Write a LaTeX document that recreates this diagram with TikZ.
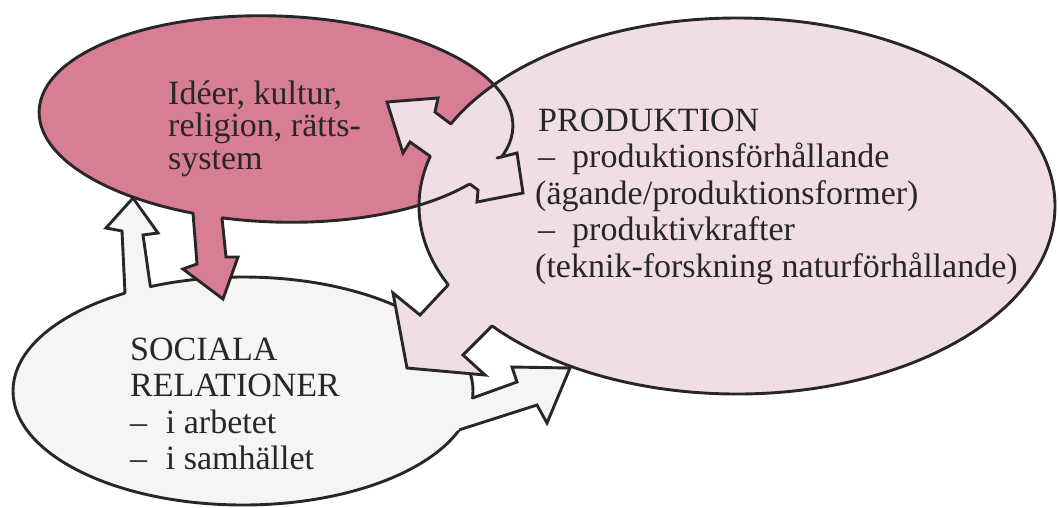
\documentclass[tikz,border=0pt]{standalone}
\usepackage{fontspec}
\setmainfont{Liberation Serif}
\definecolor{ideafill}{RGB}{216,126,148}
\definecolor{prodfill}{RGB}{241,222,228}
\definecolor{socfill}{RGB}{247,245,244}
\definecolor{ink}{RGB}{40,38,38}
\begin{document}
\begin{tikzpicture}[x=1pt,y=-1pt,
  outl/.style={draw=ink,line width=2.9pt},
  arrowline/.style={draw=ink,line width=2.9pt,line join=miter,line cap=round},
  txt/.style={anchor=base west,inner sep=0pt,font=\fontsize{34}{36}\selectfont,text=ink}]
\useasboundingbox (0,0) rectangle (1059,507);
\fill[white] (0,0) rectangle (1059,507);
\coordinate (ideaC) at (276,119);
\coordinate (prodC) at (737,206);
\coordinate (socC) at (243,391);
% ellipse fills
\fill[ideafill,rotate around={-2:(ideaC)}] (ideaC) ellipse (237 and 103);
\fill[prodfill] (prodC) ellipse (318 and 188);
\fill[socfill] (socC) ellipse (230 and 114);
% ellipse outlines
\draw[outl,rotate around={-2:(ideaC)}] (ideaC) ellipse (237 and 103);
\draw[outl] (prodC) ellipse (318 and 188);
\draw[outl] (socC) ellipse (230 and 114);
% white arrow: SOCIALA -> Ideer
\fill[socfill] (126,310) -- (125,293) -- (122,231) -- (106,228) -- (133,198) -- (158,233) -- (143,235) -- (150.4,286.7) -- (153,305) -- cycle;
\draw[arrowline] (125,293) -- (122,231) -- (106,228) -- (133,198) -- (158,233) -- (143,235) -- (150.4,286.7);
% pink arrow: Ideer -> SOCIALA
\fill[ideafill] (191,196) -- (193,213) -- (197,264) -- (183,269) -- (223,299) -- (238,257) -- (226,257) -- (222,218) -- (221,200) -- cycle;
\draw[arrowline] (193,213) -- (197,264) -- (183,269) -- (223,299) -- (238,257) -- (226,257) -- (222,218);
% double arrow: Ideer <-> PRODUKTION
\fill[prodfill] (387,102) -- (438,98) -- (435,112) -- (497,158) -- (517,153) -- (523,193) -- (477,202) -- (478,190) -- (410,142) -- (403,153) -- cycle;
\draw[arrowline] (451,124) -- (435,112) -- (438,98) -- (387,102) -- (403,153) -- (410,142) -- (430.4,156.4);
\draw[arrowline] (497,158) -- (517,153) -- (523,193) -- (477,202) -- (478,190) -- (470,184);
% light pink arrow: PRODUKTION -> SOCIALA
\fill[prodfill] (463,269) -- (448.3,284.8) -- (420,315) -- (393,293) -- (407,368) -- (485,375) -- (463,355) -- (492,326) -- (507,312) -- cycle;
\draw[arrowline] (448.3,284.8) -- (420,315) -- (393,293) -- (407,368) -- (485,375) -- (463,355) -- (492,326);
% white arrow: SOCIALA -> PRODUKTION
\fill[socfill] (458,403) -- (472.5,398) -- (517,382) -- (512,367) -- (570,368) -- (547,423) -- (537,405) -- (460,429.6) -- (446,434) -- cycle;
\draw[arrowline] (472.5,398) -- (517,382) -- (512,367) -- (570,368) -- (547,423) -- (537,405) -- (460,429.6);
% texts
\node[txt] (i1) at (168,104) {Idéer, kultur,};
\node[txt] (i2) at (168,136.5) {religion, rätts-};
\node[txt] (i3) at (168,169) {system};
\node[txt] (p1) at (538,131) {PRODUKTION};
\node[txt] (p2) at (538,167.5) {–\hspace{0.5em}produktionsförhållande};
\node[txt] (p3) at (535,204) {(ägande/produktionsformer)};
\node[txt] (p4) at (538,240.5) {–\hspace{0.5em}produktivkrafter};
\node[txt] (p5) at (535,277) {(teknik-forskning naturförhållande)};
\node[txt] (s1) at (130,360) {SOCIALA};
\node[txt] (s2) at (130,396.5) {RELATIONER};
\node[txt] (s3) at (130,433) {–\hspace{0.55em}i arbetet};
\node[txt] (s4) at (130,469.5) {–\hspace{0.55em}i samhället};
\end{tikzpicture}
\end{document}
